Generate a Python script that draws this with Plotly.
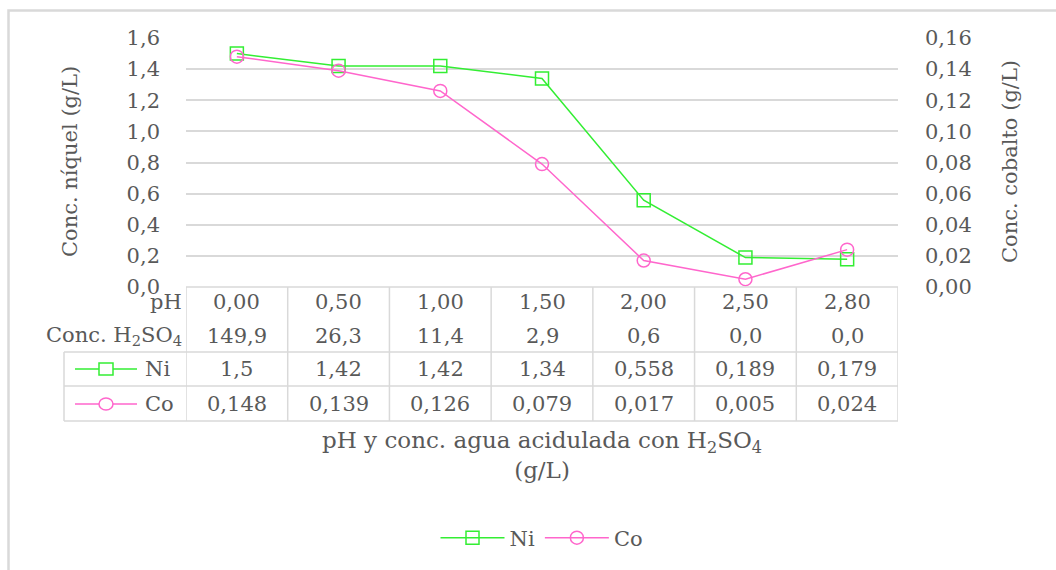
import plotly.graph_objects as go

# Data
ph_values = [0.00, 0.50, 1.00, 1.50, 2.00, 2.50, 2.80]
h2so4_values = [149.9, 26.3, 11.4, 2.9, 0.6, 0.0, 0.0]
ni_values = [1.5, 1.42, 1.42, 1.34, 0.558, 0.189, 0.179]
co_values = [0.148, 0.139, 0.126, 0.079, 0.017, 0.005, 0.024]

NI_COLOR = "#33ee33"
CO_COLOR = "#ff66cc"
TEXT_COLOR = "#595959"
GRID_COLOR = "#d9d9d9"
FONT = "DejaVu Serif"
FS = 21

W, H = 1056, 570
L, R, T, B = 186, 898, 38, 287  # plot area edges in pixels


def px(x):
    return (x - L) / (R - L)


def py(y):
    return (B - y) / (B - T)


def comma(v, fmt=None):
    s = format(v, fmt) if fmt else str(v)
    return s.replace(".", ",")


idx = list(range(len(ph_values)))

fig = go.Figure()
fig.add_trace(go.Scatter(
    x=idx, y=ni_values, name="Ni", mode="lines+markers",
    line=dict(color=NI_COLOR, width=1.5),
    marker=dict(symbol="square-open", size=13, color=NI_COLOR, line=dict(width=1.5)),
    yaxis="y",
))
fig.add_trace(go.Scatter(
    x=idx, y=co_values, name="Co", mode="lines+markers",
    line=dict(color=CO_COLOR, width=1.5),
    marker=dict(symbol="circle-open", size=13, color=CO_COLOR, line=dict(width=1.5)),
    yaxis="y2",
))

shapes = []
annotations = []

# Data table under the plot
row_pix = [B, 352, 386, 421]
table_left = 64
line_style = dict(color=GRID_COLOR, width=1.5)
shapes.append(dict(type="line", xref="paper", yref="paper", x0=0, x1=1,
                   y0=py(B), y1=py(B), line=line_style))
for yy in row_pix[1:]:
    shapes.append(dict(type="line", xref="paper", yref="paper", x0=px(table_left), x1=1,
                       y0=py(yy), y1=py(yy), line=line_style))
for i in range(len(idx) + 1):
    shapes.append(dict(type="line", xref="x", yref="paper", x0=i - 0.5, x1=i - 0.5,
                       y0=py(B), y1=py(row_pix[-1]), line=line_style))
shapes.append(dict(type="line", xref="paper", yref="paper", x0=px(table_left), x1=px(table_left),
                   y0=py(row_pix[1]), y1=py(row_pix[-1]), line=line_style))

rows = [
    (302, [comma(v, ".2f") for v in ph_values]),
    (336, [comma(v, ".1f") for v in h2so4_values]),
    (369, [comma(v) for v in ni_values]),
    (404, [comma(v) for v in co_values]),
]
cell_font = dict(family=FONT, size=FS, color=TEXT_COLOR)
for yy, texts in rows:
    for i, t in zip(idx, texts):
        annotations.append(dict(x=i, y=py(yy), xref="x", yref="paper", text=t,
                                showarrow=False, font=cell_font,
                                xanchor="center", yanchor="middle"))

annotations.append(dict(x=px(184), y=py(302), xref="paper", yref="paper", text="pH",
                        showarrow=False, font=cell_font, xanchor="right", yanchor="middle"))
annotations.append(dict(x=px(184), y=py(336), xref="paper", yref="paper",
                        text="Conc. H<sub>2</sub>SO<sub>4</sub>",
                        showarrow=False, font=cell_font, xanchor="right", yanchor="middle"))

# Series keys inside the table
for yy, name, color, kind in [(369, "Ni", NI_COLOR, "rect"), (404, "Co", CO_COLOR, "circle")]:
    shapes.append(dict(type="line", xref="paper", yref="paper", x0=px(75), x1=px(137),
                       y0=py(yy), y1=py(yy), line=dict(color=color, width=1.5)))
    shapes.append(dict(type=kind, xref="paper", yref="paper", xsizemode="pixel", ysizemode="pixel",
                       xanchor=px(106), yanchor=py(yy), x0=-7, x1=7, y0=-6, y1=6,
                       fillcolor="white", line=dict(color=color, width=1.5)))
    annotations.append(dict(x=px(143), y=py(yy), xref="paper", yref="paper", text=name,
                            showarrow=False, font=cell_font, xanchor="left", yanchor="middle"))

# Axis titles
annotations.append(dict(x=0.5, y=py(455), xref="paper", yref="paper",
                        text="pH y conc. agua acidulada con H<sub>2</sub>SO<sub>4</sub><br>(g/L)",
                        showarrow=False, font=dict(family=FONT, size=23, color=TEXT_COLOR),
                        xanchor="center", yanchor="middle"))
annotations.append(dict(x=px(70), y=py(162), xref="paper", yref="paper",
                        text="Conc. níquel (g/L)", textangle=-90,
                        showarrow=False, font=dict(family=FONT, size=21, color=TEXT_COLOR),
                        xanchor="center", yanchor="middle"))
annotations.append(dict(x=px(1010), y=py(162), xref="paper", yref="paper",
                        text="Conc. cobalto (g/L)", textangle=-90,
                        showarrow=False, font=dict(family=FONT, size=21, color=TEXT_COLOR),
                        xanchor="center", yanchor="middle"))

# Chart frame
shapes.append(dict(type="rect", xref="paper", yref="paper",
                   x0=px(8.5), x1=px(1070), y0=py(10.5), y1=py(590),
                   line=dict(color=GRID_COLOR, width=2.5), layer="below"))

fig.update_layout(
    width=W, height=H,
    margin=dict(l=L, r=W - R, t=T, b=H - B),
    paper_bgcolor="white", plot_bgcolor="white",
    separators=",.",
    font=dict(family=FONT, size=FS, color=TEXT_COLOR),
    xaxis=dict(range=[-0.5, len(idx) - 0.5], showticklabels=False, showgrid=False,
               zeroline=False, showline=False, fixedrange=True),
    yaxis=dict(range=[0, 1.6], dtick=0.2, tickformat=".1f", showgrid=True,
               gridcolor=GRID_COLOR, gridwidth=1.5, zeroline=False, showline=False,
               ticks="", ticklabelstandoff=25,
               tickfont=dict(family=FONT, size=FS, color=TEXT_COLOR)),
    yaxis2=dict(range=[0, 0.16], dtick=0.02, tickformat=".2f", overlaying="y", side="right",
                showgrid=False, zeroline=False, showline=False, ticks="", ticklabelstandoff=26,
                tickfont=dict(family=FONT, size=FS, color=TEXT_COLOR)),
    showlegend=True,
    legend=dict(orientation="h", x=0.5, xanchor="center", y=py(538), yanchor="middle",
                itemwidth=64, font=dict(family=FONT, size=FS, color=TEXT_COLOR)),
    shapes=shapes,
    annotations=annotations,
)

fig.write_html("out.html")
